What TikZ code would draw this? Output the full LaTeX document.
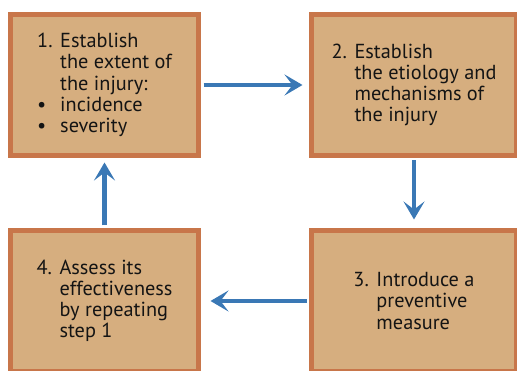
\documentclass[tikz,border=0pt]{standalone}
\usepackage{fontspec}
\setmainfont{PT Sans}
\usepackage{tikz}
\usetikzlibrary{positioning,arrows.meta}
\definecolor{boxfill}{HTML}{D6AE7F}
\definecolor{boxline}{HTML}{C8764A}
\definecolor{flowblue}{HTML}{3A78B5}
\newcommand{\numcol}[1]{\makebox[23pt][l]{#1}}

\begin{document}
\begin{tikzpicture}[x=1pt,y=1pt]
\tikzstyle{gn}=[draw=boxline,fill=boxfill,line width=5pt,inner sep=0pt,align=left,text=black!92,font=\fontsize{20.3}{21.2}\selectfont];
\tikzstyle{ed}=[draw=flowblue,line width=4.5pt,-{Stealth[length=18pt,width=21pt,inset=8pt]}];
\useasboundingbox (0,0) rectangle (517,371);
\node [gn,minimum width=188,minimum height=141] (a) at (104.5,286) {\numcol{1.}Establish\\\numcol{}the extent of\\\numcol{}the injury:\\\numcol{\textbullet}incidence\\\numcol{\textbullet}severity};
\node [gn,minimum width=205,minimum height=141] (b) at (414,286) {\numcol{2.}Establish\\\numcol{}the etiology and\\\numcol{}mechanisms of\\\numcol{}the injury};
\node [gn,minimum width=205,minimum height=141] (c) at (414,70) {\numcol{3.}Introduce a\\\numcol{}preventive\\\numcol{}measure};
\node [gn,minimum width=188,minimum height=141] (d) at (104.5,70) {\numcol{4.}Assess its\\\numcol{}effectiveness\\\numcol{}by repeating\\\numcol{}step 1};
\draw [ed,shorten <=2.5pt,shorten >=6.5pt] (a) -- (b);
\draw [ed,shorten <=2.5pt,shorten >=8.5pt] (b) -- (c);
\draw [ed,shorten <=2.5pt,shorten >=9.5pt] (c) -- (d);
\draw [ed,shorten <=2.5pt,shorten >=4.5pt] (d) -- (a);
\end{tikzpicture}
\end{document}
